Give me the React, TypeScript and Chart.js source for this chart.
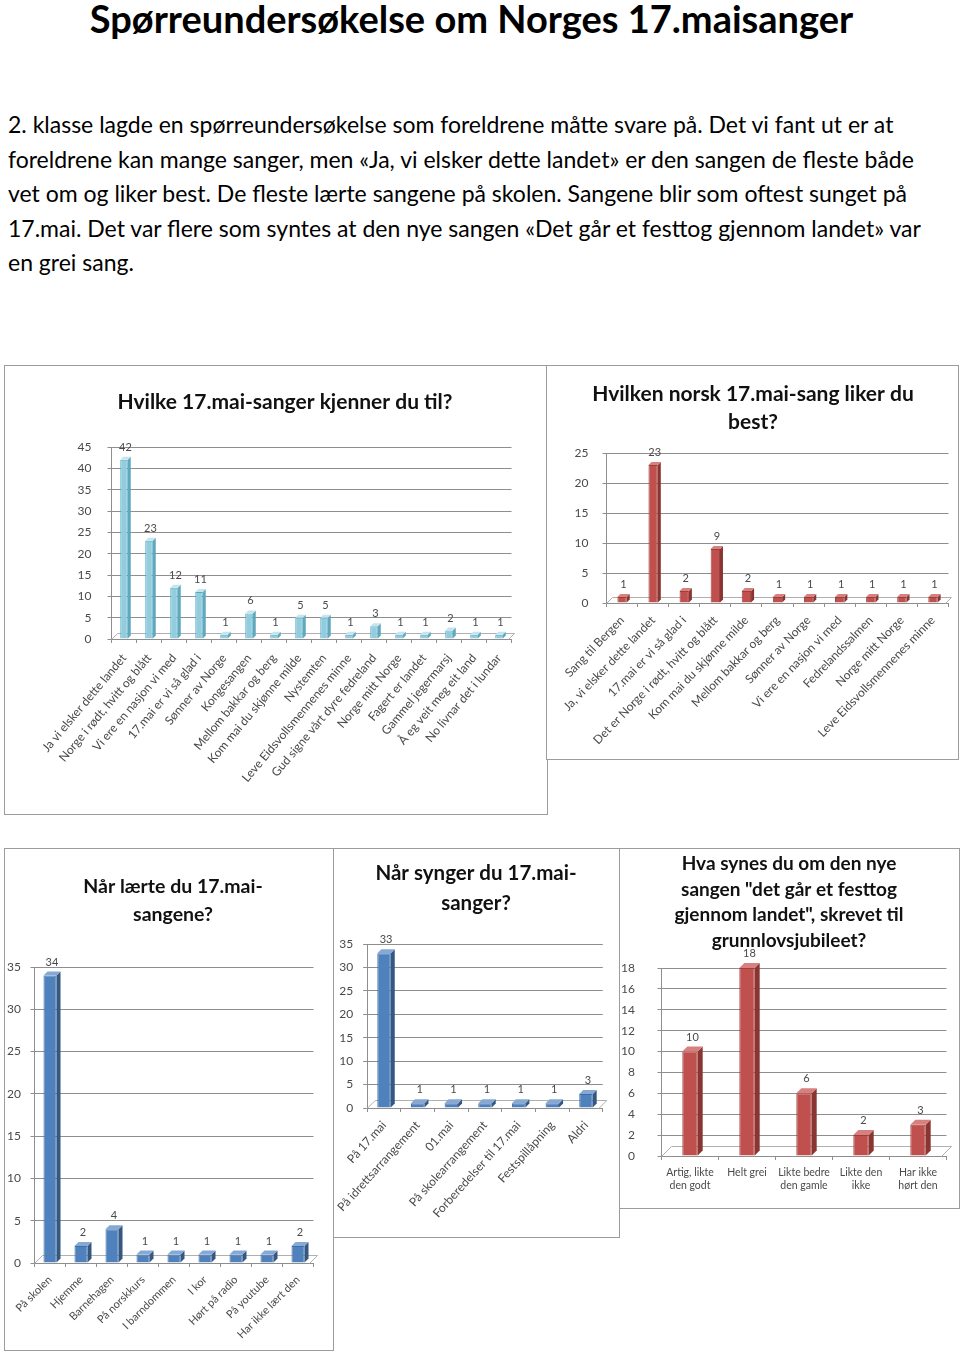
import React, { useEffect, useRef } from "react";
import { Chart, registerables } from "chart.js";

Chart.register(...registerables);

const FONT = "Lato, 'Open Sans', 'DejaVu Sans', sans-serif";

// ---------- Page text ----------
const pageTitle = "Spørreundersøkelse om Norges 17.maisanger";
const paragraphLines = [
  "2. klasse lagde en spørreundersøkelse som foreldrene måtte svare på. Det vi fant ut er at",
  "foreldrene kan mange sanger, men «Ja, vi elsker dette landet» er den sangen de fleste både",
  "vet om og liker best. De fleste lærte sangene på skolen. Sangene blir som oftest sunget på",
  "17.mai. Det var flere som syntes at den nye sangen «Det går et festtog gjennom landet» var",
  "en grei sang.",
];

// ---------- Chart 1: Hvilke 17.mai-sanger kjenner du til? ----------
const knowTitle = ["Hvilke 17.mai-sanger kjenner du til?"];
const knowLabels = [
  "Ja vi elsker dette landet",
  "Norge i rødt, hvitt og blått",
  "Vi ere en nasjon vi med",
  "17.mai er vi så glad i",
  "Sønner av Norge",
  "Kongesangen",
  "Mellom bakkar og berg",
  "Kom mai du skjønne milde",
  "Nystemten",
  "Leve Eidsvollsmennenes minne",
  "Gud signe vårt dyre fedreland",
  "Norge mitt Norge",
  "Fagert er landet",
  "Gammel jegermarsj",
  "Å eg veit meg eit land",
  "No livnar det i lundar",
];
const knowValues = [42, 23, 12, 11, 1, 6, 1, 5, 5, 1, 3, 1, 1, 2, 1, 1];
const knowTicks = [0, 5, 10, 15, 20, 25, 30, 35, 40, 45];

// ---------- Chart 2: Hvilken norsk 17.mai-sang liker du best? ----------
const likeTitle = ["Hvilken norsk 17.mai-sang liker du", "best?"];
const likeLabels = [
  "Sang til Bergen",
  "Ja, vi elsker dette landet",
  "17.mai er vi så glad i",
  "Det er Norge i rødt, hvitt og blått",
  "Kom mai du skjønne milde",
  "Mellom bakkar og berg",
  "Sønner av Norge",
  "Vi ere en nasjon vi med",
  "Fedrelandssalmen",
  "Norge mitt Norge",
  "Leve Eidsvollsmennenes minne",
];
const likeValues = [1, 23, 2, 9, 2, 1, 1, 1, 1, 1, 1];
const likeTicks = [0, 5, 10, 15, 20, 25];

// ---------- Chart 3: Når lærte du 17.mai-sangene? ----------
const learnTitle = ["Når lærte du 17.mai-", "sangene?"];
const learnLabels = [
  "På skolen",
  "Hjemme",
  "Barnehagen",
  "På norskkurs",
  "I barndommen",
  "I kor",
  "Hørt på radio",
  "På youtube",
  "Har ikke lært den",
];
const learnValues = [34, 2, 4, 1, 1, 1, 1, 1, 2];
const learnTicks = [0, 5, 10, 15, 20, 25, 30, 35];

// ---------- Chart 4: Når synger du 17.mai-sanger? ----------
const singTitle = ["Når synger du 17.mai-", "sanger?"];
const singLabels = [
  "På 17.mai",
  "På idrettsarrangement",
  "01.mai",
  "På skolearrangement",
  "Forberedelser til 17.mai",
  "Festspillåpning",
  "Aldri",
];
const singValues = [33, 1, 1, 1, 1, 1, 3];
const singTicks = [0, 5, 10, 15, 20, 25, 30, 35];

// ---------- Chart 5: Hva synes du om den nye sangen ... ----------
const newTitle = [
  "Hva synes du om den nye",
  "sangen \"det går et festtog",
  "gjennom landet\", skrevet til",
  "grunnlovsjubileet?",
];
const newLabels = [
  ["Artig, likte", "den godt"],
  ["Helt grei"],
  ["Likte bedre", "den gamle"],
  ["Likte den", "ikke"],
  ["Har ikke", "hørt den"],
];
const newValues = [10, 18, 6, 2, 3];
const newTicks = [0, 2, 4, 6, 8, 10, 12, 14, 16, 18];

// ---------- styles ----------
type Palette = { front: string; border: string; side: string; top: string };
const AQUA: Palette = { front: "#93CDDD", border: "#4BACC6", side: "#5FA8BE", top: "#C6E4EE" };
const RED: Palette = { front: "#C0504D", border: "#9E3E3B", side: "#8A3532", top: "#D7807D" };
const BLUE: Palette = { front: "#4F81BD", border: "#3F6DA6", side: "#345882", top: "#86A8D4" };

type Spec = {
  box: { x: number; y: number; w: number; h: number };
  titleX: number;
  titleY: number;
  titleSize: number;
  titleLineGap: number;
  plot: { l: number; r: number; t: number; b: number };
  yTickPad: number;
  xTickSize: number;
  xRotation: number;
  xTickPad: number;
  barFrac: number;
  depth: number;
  palette: Palette;
};

const GRID = "#8E8E8E";
const TEXT = "#4A4A4A";
const BORDER = 1;

const bar3dPlugin = {
  id: "bar3d",
  beforeDatasetsDraw(chart: any, _a: any, opts: any) {
    const { left, right, bottom } = chart.chartArea;
    const d = opts.depth || 0;
    const ctx = chart.ctx;
    ctx.save();
    ctx.strokeStyle = "#B0B0B0";
    ctx.lineWidth = 1;
    ctx.beginPath();
    ctx.moveTo(left, bottom + 0.5);
    ctx.lineTo(left + d * 2, bottom - d * 2 + 0.5);
    ctx.lineTo(right + d, bottom - d * 2 + 0.5);
    ctx.lineTo(right - d, bottom + 0.5);
    ctx.stroke();
    ctx.restore();
  },
  afterDatasetsDraw(chart: any, _a: any, opts: any) {
    const ctx = chart.ctx;
    const d = opts.depth || 0;
    chart.data.datasets.forEach((ds: any, i: number) => {
      const meta = chart.getDatasetMeta(i);
      meta.data.forEach((el: any, j: number) => {
        const { x, y, base, width } = el.getProps(["x", "y", "base", "width"], true);
        const l = x - width / 2;
        const r = x + width / 2;
        ctx.save();
        ctx.fillStyle = opts.side;
        ctx.beginPath();
        ctx.moveTo(r, y);
        ctx.lineTo(r + d, y - d);
        ctx.lineTo(r + d, base - d);
        ctx.lineTo(r, base);
        ctx.closePath();
        ctx.fill();
        ctx.fillStyle = opts.top;
        ctx.beginPath();
        ctx.moveTo(l, y);
        ctx.lineTo(l + d, y - d);
        ctx.lineTo(r + d, y - d);
        ctx.lineTo(r, y);
        ctx.closePath();
        ctx.fill();
        ctx.fillStyle = TEXT;
        ctx.font = `11px ${FONT}`;
        ctx.textAlign = "center";
        ctx.textBaseline = "bottom";
        ctx.fillText(String(ds.data[j]), x + d / 2, y - d - 4);
        ctx.restore();
      });
    });
  },
};

function BarChart(props: {
  title: string[];
  labels: (string | string[])[];
  values: number[];
  ticks: number[];
  spec: Spec;
}) {
  const { title, labels, values, ticks, spec } = props;
  const ref = useRef<HTMLCanvasElement | null>(null);

  useEffect(() => {
    if (!ref.current) return;
    const { box, plot } = spec;
    const W = box.w - 2 * BORDER;
    const H = box.h - 2 * BORDER;
    const ox = box.x + BORDER;
    const oy = box.y + BORDER;
    const left = plot.l - ox;
    const right = plot.r - ox;
    const top = plot.t - oy;
    const bottom = plot.b - oy;
    const tcx = spec.titleX - ox;
    const tcy = spec.titleY - oy;
    const padR = W - right;
    const step = ticks[1] - ticks[0];
    const max = ticks[ticks.length - 1];

    const titlePlugin = {
      id: "boxTitle",
      afterDraw(c: any) {
        const ctx = c.ctx;
        ctx.save();
        ctx.font = `bold ${spec.titleSize}px ${FONT}`;
        ctx.fillStyle = "#111111";
        ctx.textAlign = "center";
        ctx.textBaseline = "middle";
        const n = title.length;
        title.forEach((t, i) => {
          ctx.fillText(t, tcx, tcy + (i - (n - 1) / 2) * spec.titleLineGap);
        });
        ctx.restore();
      },
    };

    const chart = new Chart(ref.current, {
      type: "bar",
      data: {
        labels: labels as any,
        datasets: [
          {
            data: values,
            backgroundColor: spec.palette.front,
            borderColor: spec.palette.border,
            borderWidth: 1,
            barPercentage: spec.barFrac,
            categoryPercentage: 1,
          },
        ],
      },
      options: {
        responsive: true,
        maintainAspectRatio: false,
        animation: false,
        layout: { padding: { left: 0, right: padR, top: top, bottom: 0 } },
        plugins: {
          legend: { display: false },
          tooltip: { enabled: false },
          title: { display: false },
          bar3d: {
            depth: spec.depth,
            side: spec.palette.side,
            top: spec.palette.top,
          },
        } as any,
        scales: {
          x: {
            grid: { display: true, drawOnChartArea: false, tickLength: 4, color: GRID },
            border: { color: GRID },
            ticks: {
              autoSkip: false,
              maxRotation: spec.xRotation,
              minRotation: spec.xRotation,
              padding: spec.xTickPad,
              color: TEXT,
              font: { family: FONT, size: spec.xTickSize, lineHeight: 1.25 },
            },
            afterFit: (s: any) => {
              s.height = H - bottom;
              s.paddingLeft = 0;
              s.paddingRight = 0;
            },
          },
          y: {
            min: 0,
            max,
            grid: { color: GRID, tickLength: 4 },
            border: { color: GRID },
            ticks: {
              stepSize: step,
              padding: spec.yTickPad,
              color: TEXT,
              font: { family: FONT, size: 12 },
            },
            afterFit: (s: any) => {
              s.width = left;
              s.paddingTop = 0;
              s.paddingBottom = 0;
            },
          },
        },
      },
      plugins: [bar3dPlugin, titlePlugin],
    });
    return () => chart.destroy();
  }, []);

  const { box } = spec;
  return (
    <div
      style={{
        position: "absolute",
        left: box.x,
        top: box.y,
        width: box.w,
        height: box.h,
        boxSizing: "border-box",
        border: `${BORDER}px solid #9C9C9C`,
        background: "#ffffff",
      }}
    >
      <div style={{ position: "relative", width: box.w - 2 * BORDER, height: box.h - 2 * BORDER }}>
        <canvas ref={ref} />
      </div>
    </div>
  );
}

const knowSpec: Spec = {
  box: { x: 4, y: 365, w: 544, h: 450 },
  titleX: 285,
  titleY: 402,
  titleSize: 21,
  titleLineGap: 28,
  plot: { l: 111.5, r: 511.5, t: 447, b: 639 },
  yTickPad: 16,
  xTickSize: 12,
  xRotation: 50,
  xTickPad: 8,
  barFrac: 0.3,
  depth: 3,
  palette: AQUA,
};

const likeSpec: Spec = {
  box: { x: 546, y: 365, w: 413, h: 395 },
  titleX: 753,
  titleY: 408,
  titleSize: 21,
  titleLineGap: 28,
  plot: { l: 606.5, r: 948.5, t: 453, b: 603 },
  yTickPad: 14,
  xTickSize: 12,
  xRotation: 46,
  xTickPad: 6,
  barFrac: 0.3,
  depth: 3,
  palette: RED,
};

const learnSpec: Spec = {
  box: { x: 4, y: 848, w: 330, h: 503 },
  titleX: 173,
  titleY: 901,
  titleSize: 19.5,
  titleLineGap: 28,
  plot: { l: 34.5, r: 313.5, t: 967, b: 1263 },
  yTickPad: 9.5,
  xTickSize: 11,
  xRotation: 45,
  xTickPad: 6,
  barFrac: 0.42,
  depth: 4,
  palette: BLUE,
};

const singSpec: Spec = {
  box: { x: 333, y: 848, w: 287, h: 390 },
  titleX: 476,
  titleY: 888,
  titleSize: 20.5,
  titleLineGap: 30,
  plot: { l: 367.2, r: 602.8, t: 944, b: 1108 },
  yTickPad: 10,
  xTickSize: 12,
  xRotation: 48,
  xTickPad: 6,
  barFrac: 0.4,
  depth: 4,
  palette: BLUE,
};

const newSpec: Spec = {
  box: { x: 619, y: 848, w: 341, h: 361 },
  titleX: 789,
  titleY: 902.5,
  titleSize: 19,
  titleLineGap: 25.7,
  plot: { l: 661.5, r: 946.5, t: 968, b: 1156 },
  yTickPad: 22.5,
  xTickSize: 10.5,
  xRotation: 0,
  xTickPad: 6,
  barFrac: 0.27,
  depth: 5,
  palette: RED,
};

export default function App() {
  return (
    <div
      style={{
        position: "absolute",
        left: 0,
        top: 0,
        width: 960,
        height: 1353,
        overflow: "hidden",
        background: "#ffffff",
        fontFamily: FONT,
      }}
    >
      <div
        style={{
          position: "absolute",
          left: 0,
          top: -1,
          width: 943,
          textAlign: "center",
          fontWeight: "bold",
          fontSize: 38,
          lineHeight: "38px",
          color: "#000",
          whiteSpace: "nowrap",
        }}
      >
        {pageTitle}
      </div>
      {paragraphLines.map((line, i) => (
        <div
          key={i}
          style={{
            position: "absolute",
            left: 8,
            top: 107 + i * 34.5,
            fontSize: 23,
            lineHeight: "34.5px",
            color: "#000",
            whiteSpace: "nowrap",
          }}
        >
          {line}
        </div>
      ))}
      <BarChart title={knowTitle} labels={knowLabels} values={knowValues} ticks={knowTicks} spec={knowSpec} />
      <BarChart title={likeTitle} labels={likeLabels} values={likeValues} ticks={likeTicks} spec={likeSpec} />
      <BarChart title={learnTitle} labels={learnLabels} values={learnValues} ticks={learnTicks} spec={learnSpec} />
      <BarChart title={singTitle} labels={singLabels} values={singValues} ticks={singTicks} spec={singSpec} />
      <BarChart title={newTitle} labels={newLabels} values={newValues} ticks={newTicks} spec={newSpec} />
    </div>
  );
}
